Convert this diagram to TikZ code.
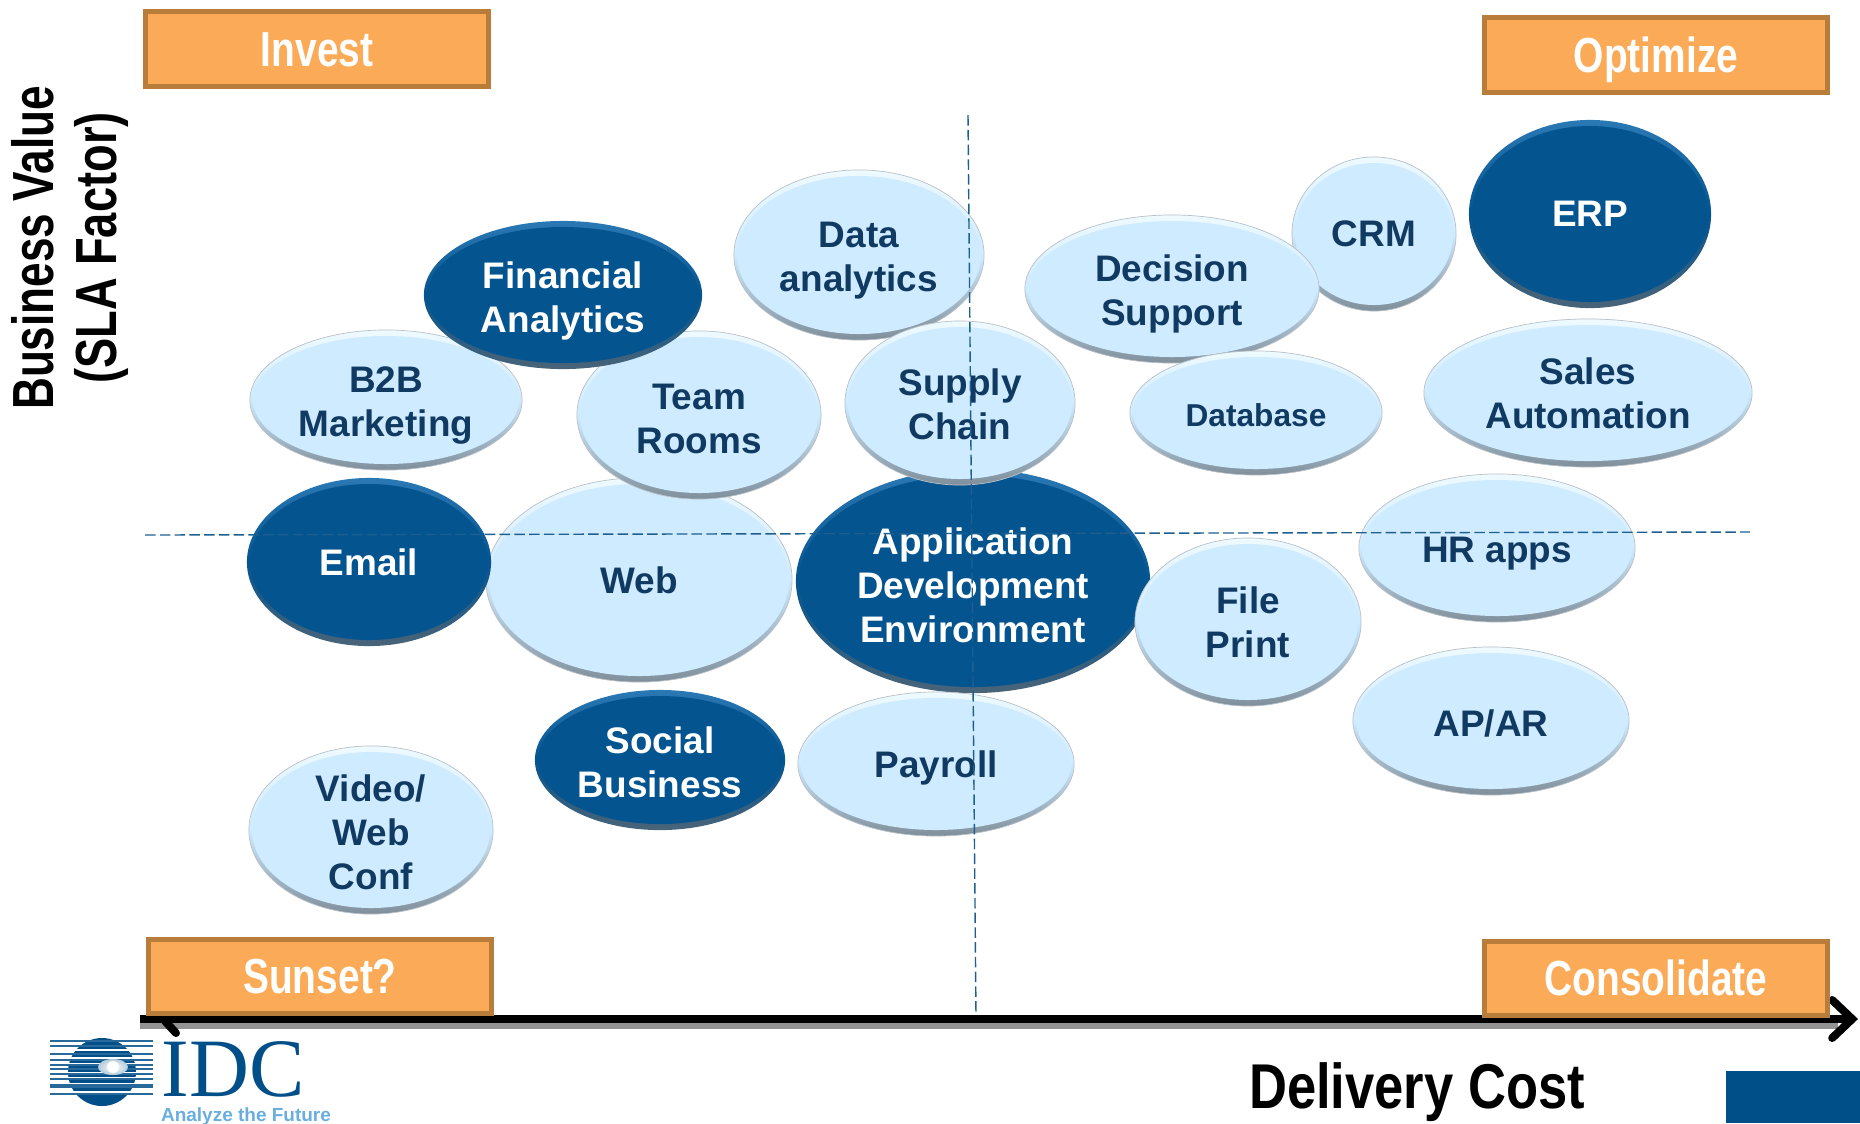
\documentclass[tikz,border=0pt]{standalone}
\usepackage{fontspec}
\usepackage{graphicx}
\setmainfont{Liberation Sans}
\newfontfamily\logofont{Liberation Serif}
\usetikzlibrary{arrows.meta,shapes.geometric}

\definecolor{bubblefill}{HTML}{CFEBFF}
\definecolor{bubbletop}{HTML}{EEFAFF}
\definecolor{bubblelow}{HTML}{7F8E9A}
\definecolor{bubbletext}{HTML}{113A63}
\definecolor{darkfill}{HTML}{04548F}
\definecolor{darktop}{HTML}{2A78B4}
\definecolor{darklow}{HTML}{4A6478}
\definecolor{boxfill}{HTML}{FBAB57}
\definecolor{boxline}{HTML}{B87D3B}
\definecolor{gridline}{HTML}{1F5F8F}
\definecolor{idcblue}{HTML}{004F88}
\definecolor{idclight}{HTML}{6AAEDF}

\tikzset{
  bubble/.style 2 args={ellipse,inner sep=-10pt,align=center,
    minimum width=#1*0.02cm,minimum height=#2*0.02cm,
    draw=bubblelow!55,line width=0.2pt,
    top color=bubbletop,bottom color=bubblelow,middle color=bubblefill,
    text=bubbletext,font=\bfseries\fontsize{10.5}{12.6}\selectfont,
    path picture={\fill[bubblefill] (path picture bounding box.center) ellipse [x radius=#1-3,y radius=#2-6];}},
  darkbubble/.style 2 args={ellipse,inner sep=-10pt,align=center,
    minimum width=#1*0.02cm,minimum height=#2*0.02cm,
    top color=darktop,bottom color=darklow,middle color=darkfill,
    text=white,font=\bfseries\fontsize{10.5}{12.6}\selectfont,
    path picture={\fill[darkfill] (path picture bounding box.center) ellipse [x radius=#1-3,y radius=#2-6];}},
  cornerbox/.style={draw=boxline,fill=boxfill,line width=0.05cm,
    minimum width=3.42cm,minimum height=0.74cm,text=white,
    text height=10pt,text depth=0pt,
    font=\bfseries\fontsize{14}{16}\selectfont},
  axistitle/.style={text=black,align=center,
    font=\bfseries\fontsize{16.5}{18}\selectfont},
  gridrule/.style={draw=gridline,line width=0.4pt,dash pattern=on 3pt off 1.2pt},
}
\newcommand{\narrowtext}[2]{\scalebox{#1}[1]{#2}}
\newcommand{\lowline}[1]{\rule{0pt}{#1}}

\begin{document}
\begin{tikzpicture}[x=0.01cm,y=-0.01cm]
\useasboundingbox (0,0) rectangle (1860,1123);

\coordinate (axisL) at (140,1019);
\coordinate (axisR) at (1858,1019);
\coordinate (barbL) at (176,1033);
\coordinate (barbS) at (165,1021);

% axis
\draw[gray!85,line width=0.06cm] (140,1026) -- (1838,1026);
\draw[black,line width=0.08cm,-{Straight Barb[length=0.2cm,width=0.38cm,line cap=round]}] (axisL) -- (axisR);
\draw[black,line width=0.08cm,line cap=round] (barbS) -- (barbL);

% bubbles
\node (web) [bubble={153}{102}] at (639,580) {Web};
\node (team) [bubble={122}{84}] at (699,415) {\lowline{9.4pt}Team\\Rooms};
\node (btob) [bubble={136}{70}] at (386,400) {\lowline{10.4pt}B2B\\Marketing};
\node (finance) [darkbubble={139}{74}] at (563,295) {\lowline{11pt}Financial\\Analytics};
\node (email) [darkbubble={122}{84}] at (369,562) {Email};
\node (data) [bubble={125}{85}] at (859,255) {\lowline{10.4pt}Data\\analytics};
\node (appdev) [darkbubble={177}{112}] at (973,581) {\lowline{10pt}Application\\Development\\Environment};
\node (supply) [bubble={115}{82}] at (960,403) {\lowline{8.5pt}Supply\\Chain};
\node (payroll) [bubble={138}{72}] at (936,764) {\lowline{10pt}Payroll};
\node (file) [bubble={113}{84}] at (1248,622) {File\\Print};
\node (crm) [bubble={82}{77}] at (1374,234) {CRM};
\node (decision) [bubble={147}{74}] at (1172,289) {\lowline{10.4pt}Decision\\Support};
\node (erp) [darkbubble={121}{94}] at (1590,214) {ERP};
\node (database) [bubble={126}{62},font=\bfseries\fontsize{9}{11}\selectfont] at (1256,413) {\lowline{8pt}Database};
\node (sales) [bubble={164}{74}] at (1588,393) {Sales\\Automation};
\node (hr) [bubble={138}{74}] at (1497,548) {\lowline{10.4pt}HR apps};
\node (apar) [bubble={138}{74}] at (1491,721) {\lowline{9pt}AP/AR};
\node (social) [darkbubble={125}{70}] at (660,760) {\lowline{9pt}Social\\Business};
\node (video) [bubble={122}{84}] at (371,830) {\lowline{9pt}Video/\\Web\\Conf};

% quadrant rules
\coordinate (ruleW) at (145,535);
\coordinate (ruleE) at (1750,532);
\coordinate (ruleN) at (968,115);
\coordinate (ruleS) at (976,1016);
\draw[gridrule] (ruleW) -- (ruleE);
\draw[gridrule] (ruleN) -- (ruleS);

% corner boxes
\node (invest) [cornerbox] at (317,49) {\narrowtext{0.79}{Invest}};
\node (optimize) [cornerbox] at (1656,55) {\narrowtext{0.79}{Optimize}};
\node (sunset) [cornerbox] at (320,976) {\narrowtext{0.79}{Sunset?}};
\node (consolidate) [cornerbox] at (1656,978) {\narrowtext{0.79}{Consolidate}};

% axis titles
\node (cost) [axistitle,font=\bfseries\fontsize{18}{20}\selectfont] at (1417,1092) {\narrowtext{0.83}{Delivery Cost}};
\node (value) [axistitle,rotate=90] at (70,248) {\narrowtext{0.76}{Business Value}\\\narrowtext{0.78}{(SLA Factor)}};

% corner block
\fill[idcblue] (1726,1071) rectangle (1860,1123);

% logo
\fill[idcblue] (102,1072) circle [radius=34];
\foreach \y in {1049,1057,1063,1072,1077,1083,1091} {
  \fill[white] (60,\y) rectangle (146,\y+1.6);
}
\foreach \y in {1041,1046,1054,1060,1065,1069,1074,1079,1085,1087,1094} {
  \draw[idcblue!85,line width=0.35pt] (50,\y) -- (153,\y);
}
\shade[inner color=white,outer color=idcblue!30] (113,1067) ellipse [x radius=15,y radius=8];
\fill[white] (113,1067) circle [radius=6];
\node (idc) [inner sep=0pt,text=idcblue,font=\logofont\fontsize{23.6}{24}\selectfont] at (233,1069) {IDC};
\node (slogan) [inner sep=0pt,text=idclight,font=\bfseries\fontsize{5.4}{6}\selectfont] at (246,1117) {Analyze the Future};
\end{tikzpicture}
\end{document}
